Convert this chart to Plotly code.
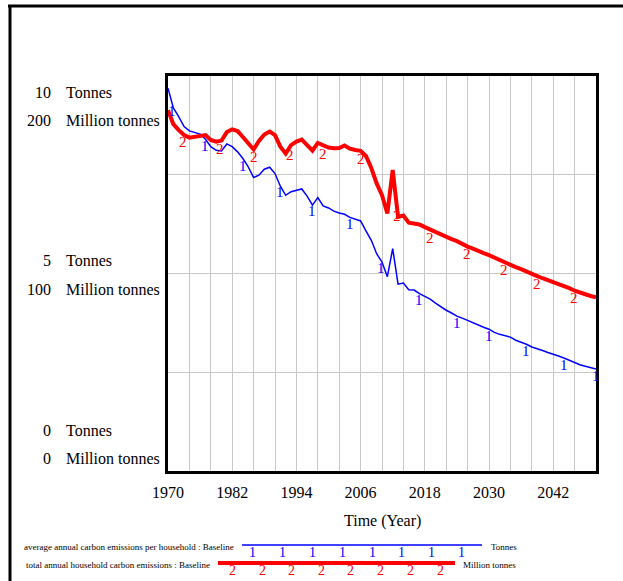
import plotly.graph_objects as go
import numpy as np

years = list(range(1970, 2051))

avg_household_tonnes = [
    9.69, 9.19, 8.97, 8.72, 8.61, 8.57, 8.53, 8.40, 8.21, 8.12,
    8.10, 8.28, 8.21, 8.08, 7.91, 7.70, 7.43, 7.49, 7.64, 7.69,
    7.53, 7.21, 6.98, 7.07, 7.11, 7.14, 6.96, 6.73, 6.92, 6.71,
    6.66, 6.58, 6.53, 6.50, 6.42, 6.38, 6.33, 6.08, 5.84, 5.50,
    5.29, 4.92, 5.63, 4.73, 4.76, 4.59, 4.58, 4.49, 4.43, 4.35,
    4.25, 4.15, 4.07, 4.00, 3.92, 3.87, 3.81, 3.74, 3.69, 3.64,
    3.59, 3.51, 3.46, 3.43, 3.39, 3.31, 3.26, 3.21, 3.14, 3.10,
    3.05, 3.00, 2.96, 2.91, 2.86, 2.80, 2.74, 2.69, 2.65, 2.61,
    2.58,
]

total_household_mt = [
    182.7, 175.6, 172.6, 170.1, 168.8, 169.3, 169.8, 170.1, 167.6, 166.7,
    167.3, 171.6, 173.0, 172.1, 169.1, 166.0, 162.8, 167.1, 170.4, 171.9,
    170.1, 164.2, 160.7, 165.0, 166.8, 167.8, 165.0, 162.2, 166.1, 164.8,
    163.8, 163.4, 163.5, 164.8, 163.2, 162.5, 162.1, 159.5, 153.4, 145.6,
    139.7, 130.4, 152.4, 128.6, 129.3, 125.7, 125.4, 124.8, 123.5, 122.2,
    121.0, 119.7, 118.4, 117.4, 116.4, 114.9, 113.6, 112.6, 111.3, 110.3,
    109.3, 108.0, 106.8, 105.5, 104.2, 103.2, 102.2, 100.9, 99.9, 98.7,
    97.6, 96.6, 95.8, 94.9, 93.8, 92.6, 91.3, 90.6, 89.5, 88.6,
    87.9,
]

# years where the Vensim series-number markers sit
blue_marker_years = [1970.8, 1977.0, 1984.0, 1990.9, 1996.9, 2004.0, 2009.9,
                     2016.9, 2024.0, 2030.0, 2037.0, 2044.0, 2050.0]
red_marker_years = [1972.8, 1979.7, 1986.0, 1992.8, 1999.0, 2006.0, 2012.8,
                    2019.0, 2025.8, 2032.8, 2039.0, 2045.9]

x_tick_labels = ["1970", "1982", "1994", "2006", "2018", "2030", "2042"]
y_left_labels = [("10", "Tonnes"), ("200", "Million tonnes"),
                 ("5", "Tonnes"), ("100", "Million tonnes"),
                 ("0", "Tonnes"), ("0", "Million tonnes")]
series_names = ["average annual carbon emissions per household : Baseline",
                "total annual household carbon emissions : Baseline"]
series_units = ["Tonnes", "Million tonnes"]

BLUE = "#0000ff"
RED = "#ff0000"
FONT = "Liberation Serif, Times New Roman, serif"

W, H = 623, 581
L, R, T, B = 168, 596, 76, 471


def px(x):
    return (x - L) / (R - L)


def py(y):
    return (B - y) / (B - T)


fig = go.Figure()

fig.add_trace(go.Scatter(x=years, y=avg_household_tonnes, mode="lines",
                         line=dict(color=BLUE, width=1.5), yaxis="y",
                         showlegend=False, hoverinfo="skip"))
fig.add_trace(go.Scatter(x=years, y=total_household_mt, mode="lines",
                         line=dict(color=RED, width=4), yaxis="y2",
                         showlegend=False, hoverinfo="skip"))

annotations = []

# Vensim-style series number markers, hanging from the line
bm_y = list(np.interp(blue_marker_years, years, avg_household_tonnes))
rm_y = list(np.interp(red_marker_years, years, total_household_mt))
for xx, yy in zip(blue_marker_years, bm_y):
    annotations.append(dict(x=xx, y=yy, xref="x", yref="y", text="1", showarrow=False,
                            xanchor="center", yanchor="top", yshift=3,
                            font=dict(family=FONT, size=15, color=BLUE)))
for xx, yy in zip(red_marker_years, rm_y):
    annotations.append(dict(x=xx, y=yy, xref="x", yref="y2", text="2", showarrow=False,
                            xanchor="center", yanchor="top", yshift=2,
                            font=dict(family=FONT, size=15, color=RED)))

label_y = [92.5, 120.5, 260.5, 289, 430.5, 458]
for (num, unit), yy in zip(y_left_labels, label_y):
    annotations.append(dict(x=px(53), y=py(yy), xref="paper", yref="paper",
                            text=num, showarrow=False, xanchor="right",
                            yanchor="middle", font=dict(family=FONT, size=16, color="black")))
    annotations.append(dict(x=px(64), y=py(yy), xref="paper", yref="paper",
                            text=unit, showarrow=False, xanchor="left",
                            yanchor="middle", font=dict(family=FONT, size=16, color="black")))

annotations.append(dict(x=px(382), y=py(521), xref="paper", yref="paper",
                        text="Time (Year)", showarrow=False, xanchor="center",
                        yanchor="middle", font=dict(family=FONT, size=16, color="black")))

# legend rows
leg_rows = [
    dict(name=series_names[0], unit=series_units[0], y=545, x0=242, x1=482,
         text_right=236, unit_x=489, color=BLUE, width=1.5, mark="1",
         marks=[252, 282, 312, 342, 372, 401, 431, 461]),
    dict(name=series_names[1], unit=series_units[1], y=563, x0=218, x1=455,
         text_right=212, unit_x=461, color=RED, width=4, mark="2",
         marks=[232, 262, 291, 321, 350, 380, 410, 440]),
]
shapes = []
for row in leg_rows:
    annotations.append(dict(x=px(row["text_right"]), y=py(row["y"] + 2), xref="paper", yref="paper",
                            text=row["name"], showarrow=False, xanchor="right",
                            yanchor="middle", font=dict(family=FONT, size=9, color="black")))
    annotations.append(dict(x=px(row["unit_x"]), y=py(row["y"] + 2), xref="paper", yref="paper",
                            text=row["unit"], showarrow=False, xanchor="left",
                            yanchor="middle", font=dict(family=FONT, size=9, color="black")))
    shapes.append(dict(type="line", xref="paper", yref="paper",
                       x0=px(row["x0"]), x1=px(row["x1"]), y0=py(row["y"]), y1=py(row["y"]),
                       line=dict(color=row["color"], width=row["width"])))
    for mx in row["marks"]:
        annotations.append(dict(x=px(mx), y=py(row["y"] - 2), xref="paper", yref="paper",
                                text=row["mark"], showarrow=False, xanchor="center",
                                yanchor="top", font=dict(family=FONT, size=14, color=row["color"])))

# outer frame (top and left edges)
shapes.append(dict(type="line", xref="paper", yref="paper",
                   x0=px(8), x1=px(623), y0=py(6), y1=py(6),
                   line=dict(color="black", width=3)))
shapes.append(dict(type="line", xref="paper", yref="paper",
                   x0=px(10), x1=px(10), y0=py(5), y1=py(581),
                   line=dict(color="black", width=3)))

fig.update_layout(
    width=W, height=H,
    margin=dict(l=L, r=W - R, t=T, b=H - B, pad=0),
    paper_bgcolor="white", plot_bgcolor="white",
    showlegend=False,
    annotations=annotations,
    shapes=shapes,
    xaxis=dict(range=[1970, 2050], tickvals=[1970 + 12 * i for i in range(7)],
               ticktext=x_tick_labels, showgrid=True, gridcolor="#c8c8c8", gridwidth=1,
               minor=dict(dtick=4, tick0=1970, showgrid=True, gridcolor="#c8c8c8", gridwidth=1),
               ticks="", showline=True, linecolor="black", linewidth=3, mirror=True,
               zeroline=False, tickfont=dict(family=FONT, size=16, color="black"),
               ticklabelstandoff=5),
    yaxis=dict(range=[0, 10], dtick=2.5, showgrid=True, gridcolor="#c8c8c8", gridwidth=1,
               showticklabels=False, ticks="", showline=True, linecolor="black",
               linewidth=3, mirror=True, zeroline=False),
    yaxis2=dict(range=[0, 200], overlaying="y", showgrid=False, showticklabels=False,
                ticks="", zeroline=False, showline=False),
    font=dict(family=FONT, color="black"),
)

fig.write_html("out.html", config={"displayModeBar": False},
               post_script="document.body.style.margin='0px';document.body.style.overflow='hidden';")
